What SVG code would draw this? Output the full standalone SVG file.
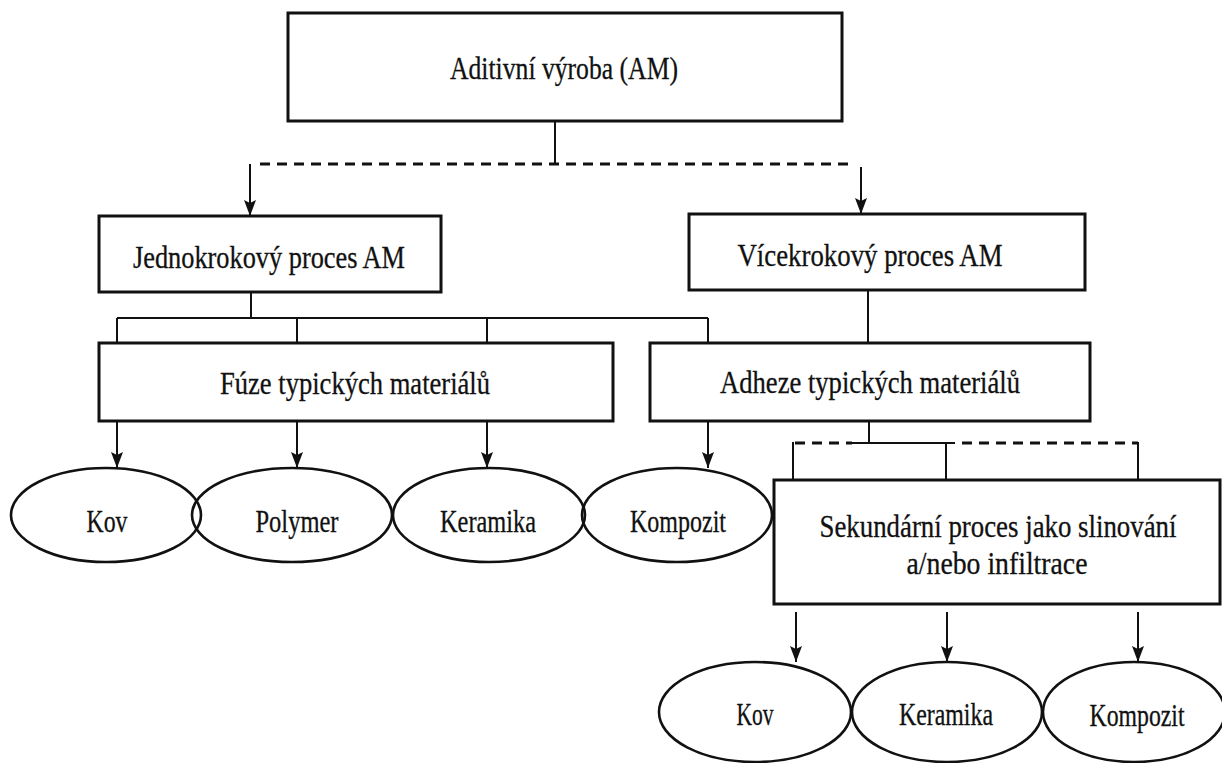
<svg xmlns="http://www.w3.org/2000/svg" width="1222" height="763" viewBox="0 0 1222 763">
  <style>
    .box { fill: #ffffff; stroke: #111111; stroke-width: 3; }
    .oval { fill: none; stroke: #111111; stroke-width: 2.6; }
    .lbl { font-family: "Liberation Serif", "Times New Roman", serif; font-size: 31px; fill: #111111; stroke: #111111; stroke-width: 0.3; text-anchor: middle; }
    .line { fill: none; stroke: #111111; stroke-width: 2; }
    .dash { fill: none; stroke: #111111; stroke-width: 3; stroke-dasharray: 10 7; }
    .arrow { fill: none; stroke: #111111; stroke-width: 2; marker-end: url(#head); }
  </style>
  <defs>
    <marker id="head" viewBox="0 0 16 12" refX="16" refY="6" markerWidth="16" markerHeight="12" markerUnits="userSpaceOnUse" orient="auto">
      <path d="M0,0 L16,6 L0,12 L3,6 z" fill="#111111"/>
    </marker>
  </defs>
  <rect width="1222" height="763" fill="#ffffff"/>

  <!-- connectors -->
  <g id="connectors">
    <!-- root to the two process types -->
    <line class="line" x1="555" y1="121" x2="555" y2="164"/>
    <line class="dash" x1="260" y1="164" x2="850" y2="164"/>
    <line class="arrow" x1="250" y1="164" x2="250" y2="216"/>
    <line class="arrow" x1="861" y1="167" x2="861" y2="214"/>

    <!-- single-step branch -->
    <line class="line" x1="251" y1="292" x2="251" y2="318"/>
    <line class="line" x1="117" y1="318" x2="708" y2="318"/>
    <line class="line" x1="117" y1="318" x2="117" y2="343"/>
    <line class="line" x1="297" y1="318" x2="297" y2="343"/>
    <line class="line" x1="487" y1="318" x2="487" y2="343"/>
    <line class="line" x1="708" y1="318" x2="708" y2="343"/>

    <!-- multi-step branch -->
    <line class="line" x1="868" y1="290" x2="868" y2="343"/>

    <!-- material arrows, first row -->
    <line class="arrow" x1="117" y1="421" x2="117" y2="468"/>
    <line class="arrow" x1="297" y1="421" x2="297" y2="468"/>
    <line class="arrow" x1="487" y1="421" x2="487" y2="468"/>
    <line class="arrow" x1="708" y1="421" x2="708" y2="468"/>

    <!-- adhesion to secondary process -->
    <line class="line" x1="869" y1="421" x2="869" y2="443"/>
    <line class="dash" x1="795" y1="443" x2="852" y2="443"/>
    <line class="line" x1="852" y1="443" x2="955" y2="443"/>
    <line class="dash" x1="962" y1="443" x2="1138" y2="443"/>
    <line class="line" x1="793" y1="442" x2="793" y2="481"/>
    <line class="line" x1="946" y1="443" x2="946" y2="481"/>
    <line class="line" x1="1138" y1="442" x2="1138" y2="481"/>

    <!-- material arrows, second row -->
    <line class="arrow" x1="796" y1="612" x2="796" y2="662"/>
    <line class="arrow" x1="947" y1="612" x2="947" y2="662"/>
    <line class="arrow" x1="1138" y1="612" x2="1138" y2="662"/>
  </g>

  <!-- process boxes -->
  <g id="am">
    <rect class="box" x="288" y="13" width="554" height="108"/>
    <text class="lbl" x="564" y="79" font-size="29" textLength="228" lengthAdjust="spacingAndGlyphs">Aditivní výroba (AM)</text>
  </g>
  <g id="single-step">
    <rect class="box" x="99" y="216" width="342" height="76"/>
    <text class="lbl" x="269" y="268" textLength="272" lengthAdjust="spacingAndGlyphs">Jednokrokový proces AM</text>
  </g>
  <g id="multi-step">
    <rect class="box" x="689" y="214" width="396" height="76"/>
    <text class="lbl" x="870" y="266" textLength="265" lengthAdjust="spacingAndGlyphs">Vícekrokový proces AM</text>
  </g>
  <g id="fusion">
    <rect class="box" x="99" y="343" width="514" height="78"/>
    <text class="lbl" x="355" y="394" textLength="270" lengthAdjust="spacingAndGlyphs">Fúze typických materiálů</text>
  </g>
  <g id="adhesion">
    <rect class="box" x="650" y="343" width="440" height="78"/>
    <text class="lbl" x="870" y="393" textLength="300" lengthAdjust="spacingAndGlyphs">Adheze typických materiálů</text>
  </g>

  <!-- first row of materials -->
  <g id="kov-1">
    <ellipse class="oval" cx="106" cy="515" rx="95" ry="47"/>
    <text class="lbl" x="107" y="532" font-size="29" textLength="41" lengthAdjust="spacingAndGlyphs">Kov</text>
  </g>
  <g id="polymer-1">
    <ellipse class="oval" cx="292" cy="515" rx="100" ry="47"/>
    <text class="lbl" x="297" y="532" font-size="29" textLength="83" lengthAdjust="spacingAndGlyphs">Polymer</text>
  </g>
  <g id="keramika-1">
    <ellipse class="oval" cx="489" cy="515" rx="96" ry="47"/>
    <text class="lbl" x="488" y="532" font-size="29" textLength="96" lengthAdjust="spacingAndGlyphs">Keramika</text>
  </g>
  <g id="kompozit-1">
    <ellipse class="oval" cx="677" cy="515" rx="95" ry="47"/>
    <text class="lbl" x="678" y="532" font-size="29" textLength="96" lengthAdjust="spacingAndGlyphs">Kompozit</text>
  </g>

  <!-- secondary process -->
  <g id="secondary">
    <rect class="box" x="774" y="480" width="446" height="124"/>
    <text class="lbl" x="998" y="537" font-size="27" textLength="357" lengthAdjust="spacingAndGlyphs">Sekundární proces jako slinování</text>
    <text class="lbl" x="997" y="574" font-size="27" textLength="181" lengthAdjust="spacingAndGlyphs">a/nebo infiltrace</text>
  </g>

  <!-- second row of materials -->
  <g id="kov-2">
    <ellipse class="oval" cx="755" cy="712" rx="96" ry="50"/>
    <text class="lbl" x="755" y="725" font-size="29" textLength="37" lengthAdjust="spacingAndGlyphs">Kov</text>
  </g>
  <g id="keramika-2">
    <ellipse class="oval" cx="947" cy="712" rx="95" ry="50"/>
    <text class="lbl" x="946" y="725" font-size="29" textLength="94" lengthAdjust="spacingAndGlyphs">Keramika</text>
  </g>
  <g id="kompozit-2">
    <ellipse class="oval" cx="1134" cy="712" rx="91" ry="50"/>
    <text class="lbl" x="1137" y="726" font-size="29" textLength="95" lengthAdjust="spacingAndGlyphs">Kompozit</text>
  </g>
</svg>
